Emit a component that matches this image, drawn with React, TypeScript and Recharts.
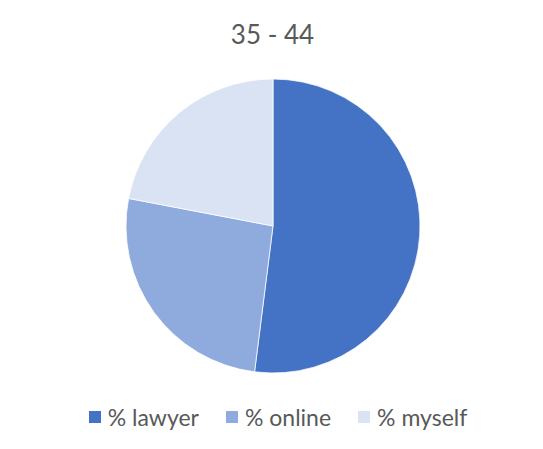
import { PieChart, Pie, Cell } from "recharts";

const CATEGORIES = ["% lawyer", "% online", "% myself"];
const VALUES = [52, 26, 22];
const COLORS = ["#4472C4", "#8FAADC", "#DAE3F3"];
const TITLE = "35 - 44";

const data = CATEGORIES.map((name, i) => ({ name, value: VALUES[i] }));

const FONT = "Lato, 'Open Sans', sans-serif";

function LegendRow() {
  return (
    <div
      style={{
        position: "absolute",
        left: 0,
        top: 403,
        width: 556,
        display: "flex",
        justifyContent: "center",
        alignItems: "center",
        gap: 27,
        fontFamily: FONT,
        fontSize: 23,
        lineHeight: "28px",
        color: "#595959",
      }}
    >
      {CATEGORIES.map((c, i) => (
        <div key={c} style={{ display: "flex", alignItems: "center", gap: 7 }}>
          <span style={{ width: 12, height: 12, background: COLORS[i], display: "inline-block" }} />
          <span>{c}</span>
        </div>
      ))}
    </div>
  );
}

export default function App() {
  return (
    <div style={{ position: "absolute", left: 0, top: 0, width: 543, height: 449, background: "#fff" }}>
      <div
        style={{
          position: "absolute",
          left: 0,
          top: 18,
          width: 545,
          textAlign: "center",
          fontFamily: FONT,
          fontSize: 26,
          color: "#595959",
        }}
      >
        {TITLE}
      </div>
      <PieChart
        width={543}
        height={449}
        margin={{ top: 0, right: 0, bottom: 0, left: 0 }}
        style={{ position: "absolute", left: 0, top: 0 }}
      >
        <Pie
          data={data}
          dataKey="value"
          nameKey="name"
          cx={273}
          cy={226}
          outerRadius={147}
          startAngle={90}
          endAngle={-270}
          stroke="#ffffff"
          strokeWidth={0.75}
          isAnimationActive={false}
        >
          {data.map((d, i) => (
            <Cell key={d.name} fill={COLORS[i]} />
          ))}
        </Pie>
      </PieChart>
      <LegendRow />
    </div>
  );
}
